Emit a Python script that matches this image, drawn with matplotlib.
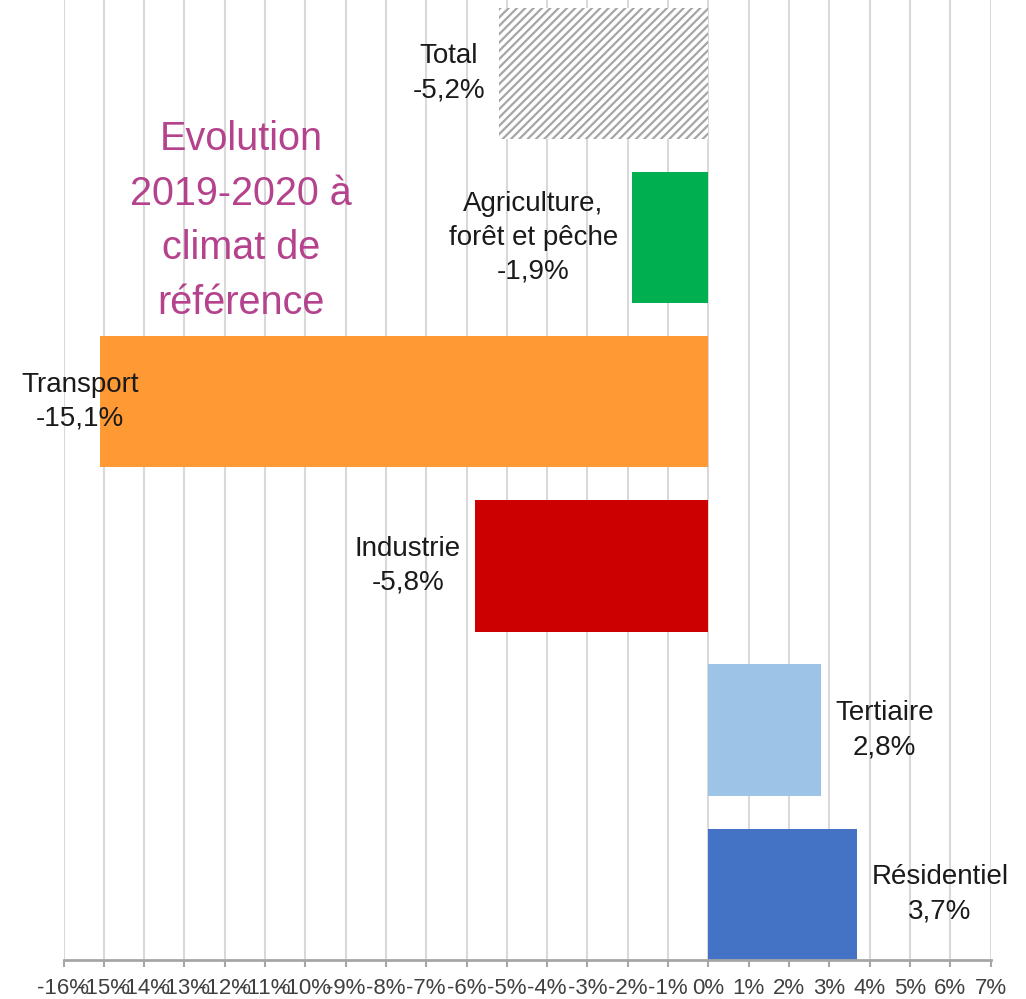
import numpy as np
import matplotlib
matplotlib.use("Agg")
import matplotlib.pyplot as plt

plt.rcParams['font.family'] = ['Liberation Sans', 'DejaVu Sans']
plt.rcParams['hatch.linewidth'] = 1.6

# data, top to bottom as in the chart
sectors = ["Total", "Agriculture,\nforêt et pêche", "Transport", "Industrie", "Tertiaire", "Résidentiel"]
values = [-5.2, -1.9, -15.1, -5.8, 2.8, 3.7]
colors = ["white", "#00B050", "#FF9933", "#CC0000", "#9DC3E6", "#4472C4"]
hatches = ["////", None, None, None, None, None]
xticks = list(range(-16, 8))
title = "Evolution\n2019-2020 à\nclimat de\nréférence"

fig = plt.figure(figsize=(10.26, 9.99), dpi=100)
ax = fig.add_axes([63.5 / 1026, 39 / 999, 927 / 1026, 960 / 999])

n = len(sectors)
ypos = np.arange(n)[::-1]

for y, v, c, h in zip(ypos, values, colors, hatches):
    if h:
        ax.barh(y, v, height=0.8, color=c, edgecolor="#A6A6A6", hatch=h, linewidth=0, zorder=2)
    else:
        ax.barh(y, v, height=0.8, color=c, linewidth=0, zorder=2)

# data labels
for y, v, s in zip(ypos, values, sectors):
    txt = s + "\n" + f"{v:.1f}".replace(".", ",") + "%"
    kw = dict(textcoords="offset points", va="center", multialignment="center",
              fontsize=20, color="#1a1a1a", zorder=3, linespacing=1.4)
    if v < -14:
        # Excel keeps this label inside the plot area
        ax.annotate(txt, xy=(-16, y), xytext=(12, 0), ha="center", **kw)
    elif v < 0:
        ax.annotate(txt, xy=(v, y), xytext=(-10, 0), ha="right", **kw)
    else:
        ax.annotate(txt, xy=(v, y), xytext=(10, 0), ha="left", **kw)

ax.text(0.1915, 0.77, title, transform=ax.transAxes, ha="center", va="center",
        multialignment="center", fontsize=28.5, color="#B4428C", linespacing=1.55)

ax.set_xlim(-16, 7)
ax.set_ylim(-0.4, 5.447)
ax.set_xticks(xticks)
ax.set_xticklabels([f"{t}%" for t in xticks], fontsize=16, color="#404040")
ax.set_yticks([])
ax.grid(axis="x", color="#D9D9D9", linewidth=1.5, zorder=0)
ax.set_axisbelow(True)
for side in ["top", "right", "left"]:
    ax.spines[side].set_visible(False)
ax.spines["bottom"].set_color("#A6A6A6")
ax.spines["bottom"].set_linewidth(2)
ax.tick_params(axis="x", length=5, width=1.5, color="#A6A6A6", pad=8)

fig.savefig("out.png", dpi=100)
